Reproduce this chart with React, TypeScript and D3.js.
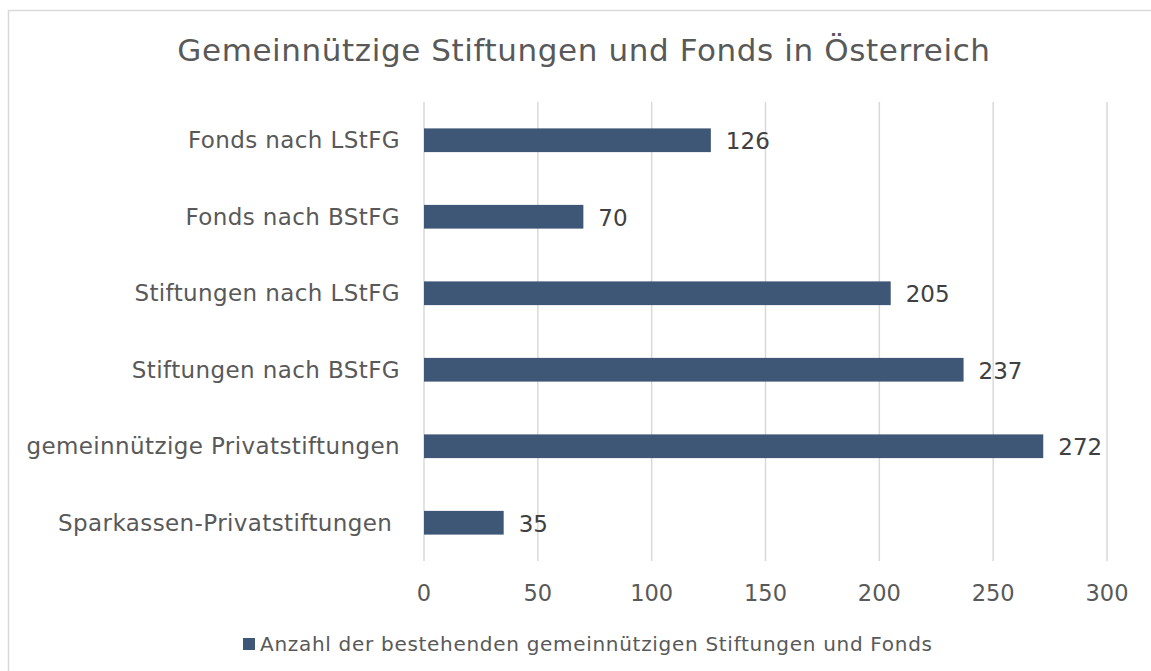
import React from "react";
import * as d3 from "d3";

const title = "Gemeinnützige Stiftungen und Fonds in Österreich";
const categories = [
  "Fonds nach LStFG",
  "Fonds nach BStFG",
  "Stiftungen nach LStFG",
  "Stiftungen nach BStFG",
  "gemeinnützige Privatstiftungen",
  "Sparkassen-Privatstiftungen ",
];
const values = [126, 70, 205, 237, 272, 35];
const xTicks = [0, 50, 100, 150, 200, 250, 300];
const seriesName = "Anzahl der bestehenden gemeinnützigen Stiftungen und Fonds";

const W = 1151;
const H = 671;
const textColor = "#595959";
const barColor = "#3f5777";
const font = "Verdana, 'DejaVu Sans', sans-serif";

export default function App() {
  const margin = { top: 102, left: 424 };

  const x = d3.scaleLinear().domain([0, 300]).range([0, 683]);
  const y = d3.scaleBand().domain(categories).range([0, 459]).paddingInner(0.69).paddingOuter(0.345);

  return (
    <svg width={W} height={H} style={{ position: "absolute", left: 0, top: 0, background: "#fff" }}>
      <rect x={8.5} y={10.5} width={W} height={H} fill="#fff" stroke="#d9d9d9" strokeWidth={1.5} />
      <text x={584} y={61} textAnchor="middle" fill={textColor} style={{ fontFamily: font, fontSize: 31, letterSpacing: 0.6 }}>
        {title}
      </text>
      <g transform={`translate(${margin.left},${margin.top})`}>
        {xTicks.map((t) => (
          <g key={t}>
            <line x1={x(t)} x2={x(t)} y1={0} y2={459} stroke="#d9d9d9" strokeWidth={1.5} />
            <text x={x(t)} y={499} textAnchor="middle" fill={textColor} style={{ fontFamily: font, fontSize: 22.5 }}>
              {t}
            </text>
          </g>
        ))}
        {categories.map((c, i) => {
          const yy = y(c)!;
          return (
            <g key={c}>
              <rect x={x(0)} y={yy} width={x(values[i]) - x(0)} height={y.bandwidth()} fill={barColor} />
              <text x={-24} y={yy + y.bandwidth() / 2} dy="0.35em" textAnchor="end" fill={textColor} style={{ fontFamily: font, fontSize: 23, letterSpacing: 0.4, whiteSpace: "pre" }}>
                {c}
              </text>
              <text x={x(values[i]) + 15} y={yy + y.bandwidth() / 2 + 1} dy="0.35em" fill="#404040" style={{ fontFamily: font, fontSize: 23 }}>
                {values[i]}
              </text>
            </g>
          );
        })}
      </g>
      <rect x={243} y={638} width={12} height={12} fill={barColor} />
      <text x={260} y={651} fill={textColor} style={{ fontFamily: font, fontSize: 20, letterSpacing: 0.7 }}>
        {seriesName}
      </text>
    </svg>
  );
}
